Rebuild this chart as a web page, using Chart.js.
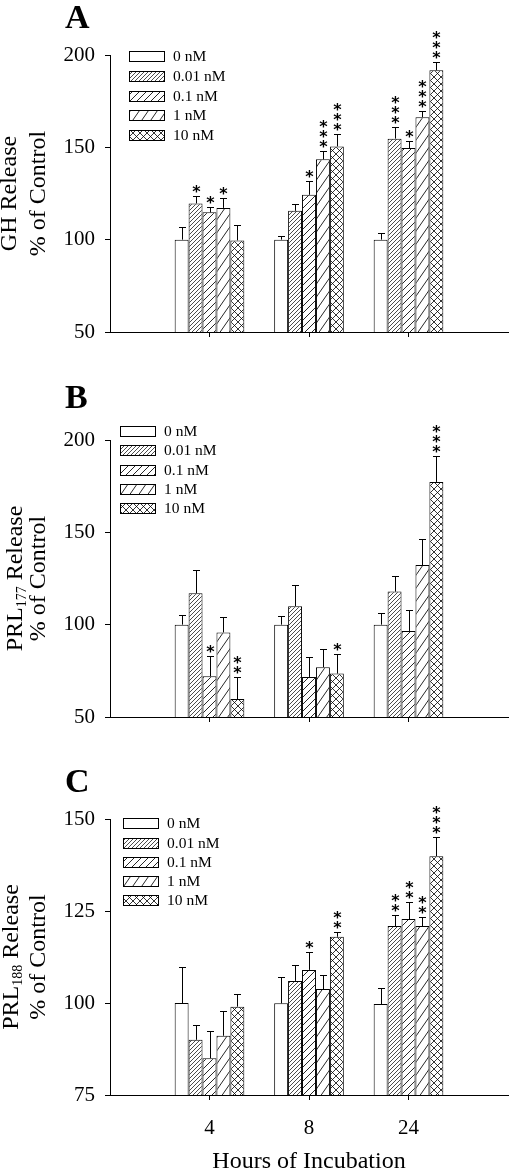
<!DOCTYPE html>
<html><head><meta charset="utf-8">
<script src="https://cdn.jsdelivr.net/npm/chart.js@4.4.0/dist/chart.umd.min.js"></script>
<style>
html,body{margin:0;padding:0;background:#fff;width:510px;height:1170px;overflow:hidden}
.p{position:absolute;left:0;width:510px}
canvas{display:block}
</style></head><body>
<div class="p" style="top:0;height:370px"><canvas id="cA" width="510" height="370"></canvas></div>
<div class="p" style="top:370px;height:370px"><canvas id="cB" width="510" height="370"></canvas></div>
<div class="p" style="top:740px;height:430px"><canvas id="cC" width="510" height="430"></canvas></div>
<script>
const hours = ['4', '8', '24'];
const doses = ['0 nM', '0.01 nM', '0.1 nM', '1 nM', '10 nM'];
const xTitle = 'Hours of Incubation';

// Panel A - GH release, % of control (rows: doses, columns: hours)
const ghMean = [
  [100, 100, 100],
  [119.6, 115.6, 154.7],
  [114.8, 124.3, 149.6],
  [117.2, 143.5, 166.3],
  [99.6, 150.5, 191.7]
];
const ghSem = [
  [7, 2, 3.6],
  [3.9, 3.6, 6.1],
  [3, 7.4, 3.8],
  [5.1, 4.7, 3.6],
  [8.2, 6.5, 4.3]
];
const ghStars = [[0,0,0],[1,0,3],[1,1,1],[1,3,3],[0,3,3]];

// Panel B - PRL177 release
const prl177Mean = [
  [100, 100, 100],
  [117, 110, 117.9],
  [72, 71.7, 96.6],
  [95.8, 77, 132.3],
  [59.7, 73.5, 177.3]
];
const prl177Sem = [
  [5, 4.5, 6.3],
  [12.8, 11.3, 8.6],
  [11.2, 10.6, 11.4],
  [8.4, 10, 13.9],
  [12, 10.5, 13.9]
];
const prl177Stars = [[0,0,0],[0,0,0],[1,0,0],[0,0,0],[2,1,3]];

// Panel C - PRL188 release
const prl188Mean = [
  [100, 99.9, 99.7],
  [90, 106, 120.9],
  [85, 109, 122.8],
  [91.1, 103.8, 120.9],
  [99, 118, 139.9]
];
const prl188Sem = [
  [9.9, 7.3, 4.3],
  [4, 4.2, 3],
  [7.4, 4.9, 4.6],
  [6.6, 3.7, 2.5],
  [3.4, 1.4, 5.1]
];
const prl188Stars = [[0,0,0],[0,0,2],[0,1,2],[0,0,2],[0,2,3]];

const yTicksAB = [50, 100, 150, 200];
const yTicksC = [75, 100, 125, 150];

const SERIF = '"Liberation Serif", "Times New Roman", serif';
const xLabels = [''].concat(hours, ['']);

function makeFill(kind) {
  if (kind === 'open') return '#ffffff';
  const specs = {
    dense: {w: 4, h: 4, slash: true, lw: 0.7},
    fine: {w: 7, h: 7, slash: true, lw: 0.85},
    steep: {w: 9, h: 13, slash: true, lw: 0.85},
    cross: {w: 7, h: 7, slash: true, back: true, lw: 0.8}
  };
  const s = specs[kind];
  const c = document.createElement('canvas');
  c.width = s.w; c.height = s.h;
  const g = c.getContext('2d');
  g.fillStyle = '#fff'; g.fillRect(0, 0, s.w, s.h);
  g.strokeStyle = '#000'; g.lineWidth = s.lw;
  const w = s.w, h = s.h;
  for (let k = -1; k <= 1; k++) {
    if (s.slash) { g.beginPath(); g.moveTo(k*w - w, 2*h); g.lineTo(k*w + 2*w, -h); g.stroke(); }
    if (s.back) { g.beginPath(); g.moveTo(k*w - w, -h); g.lineTo(k*w + 2*w, 2*h); g.stroke(); }
  }
  return g.createPattern(c, 'repeat');
}
const fills = ['open', 'dense', 'fine', 'steep', 'cross'].map(makeFill);

function decorPlugin(cfg) {
  return {
    id: 'decor' + cfg.letter,
    afterDatasetsDraw(chart) {
      const ctx = chart.ctx, ys = chart.scales.y;
      ctx.save();
      ctx.strokeStyle = '#000'; ctx.fillStyle = '#000'; ctx.lineWidth = 1;
      ctx.font = 'bold 16px "DejaVu Sans"';
      const m = ctx.measureText('*');
      const starOff = (m.actualBoundingBoxAscent - m.actualBoundingBoxDescent) / 2;
      ctx.textAlign = 'center'; ctx.textBaseline = 'alphabetic';
      chart.data.datasets.forEach((ds, di) => {
        const meta = chart.getDatasetMeta(di);
        meta.data.forEach((bar, i) => {
          const v = ds.data[i];
          if (v == null) return;
          const x = Math.round(bar.x) + 0.5;
          const yTop = Math.round(ys.getPixelForValue(v + ds.errs[i])) + 0.5;
          ctx.beginPath();
          ctx.moveTo(x, bar.y); ctx.lineTo(x, yTop);
          ctx.moveTo(x - 3.5, yTop); ctx.lineTo(x + 3.5, yTop);
          ctx.stroke();
          for (let k = 0; k < ds.stars[i]; k++) {
            const cy = yTop - 8 - k * 10;
            ctx.fillText('*', x, cy + starOff);
          }
        });
      });
      ctx.restore();
    },
    afterDraw(chart) {
      const ctx = chart.ctx, ca = chart.chartArea;
      ctx.save();
      ctx.fillStyle = '#000'; ctx.strokeStyle = '#000'; ctx.lineWidth = 1;
      // legend
      const L = cfg.legend;
      ctx.font = '15.5px ' + SERIF;
      ctx.textAlign = 'left'; ctx.textBaseline = 'middle';
      chart.data.datasets.forEach((ds, i) => {
        const yc = L.y + i * L.step;
        const by = Math.round(yc - 5) + 0.5, bx = L.x + 0.5;
        ctx.fillStyle = ds.backgroundColor;
        ctx.fillRect(bx, by, 35, 10);
        ctx.strokeRect(bx, by, 35, 10);
        ctx.fillStyle = '#000';
        ctx.fillText(ds.label, L.x + 44, yc + 1);
      });
      // panel letter
      ctx.font = 'bold 34px ' + SERIF;
      ctx.textAlign = 'left'; ctx.textBaseline = 'alphabetic';
      ctx.fillText(cfg.letter, 65, cfg.letterY);
      // y titles
      const yc = (ca.top + ca.bottom) / 2;
      cfg.titles.forEach(line => {
        ctx.save();
        ctx.translate(line.x, yc);
        ctx.rotate(-Math.PI / 2);
        let total = 0;
        const segs = line.segs.map(s => {
          const f = (s.sub ? '14px ' : '24px ') + SERIF;
          ctx.font = f;
          const w = ctx.measureText(s.t).width;
          total += w;
          return {f, w, t: s.t, sub: s.sub};
        });
        let x = -total / 2;
        ctx.textAlign = 'left'; ctx.textBaseline = 'alphabetic';
        segs.forEach(s => { ctx.font = s.f; ctx.fillText(s.t, x, s.sub ? 4 : 0); x += s.w; });
        ctx.restore();
      });
      if (cfg.showX) {
        ctx.font = '24px ' + SERIF;
        ctx.textAlign = 'center'; ctx.textBaseline = 'alphabetic';
        ctx.fillText(xTitle, (ca.left + ca.right) / 2, cfg.xTitleY);
      }
      ctx.restore();
    }
  };
}

function buildChart(id, cfg) {
  const datasets = doses.map((d, i) => ({
    label: d,
    data: [null].concat(cfg.mean[i], [null]),
    errs: [null].concat(cfg.sem[i], [null]),
    stars: [0].concat(cfg.stars[i], [0]),
    backgroundColor: fills[i],
    borderColor: '#000',
    borderWidth: 1,
    categoryPercentage: 0.7,
    barPercentage: 1.0
  }));
  new Chart(document.getElementById(id), {
    type: 'bar',
    data: {labels: xLabels, datasets},
    options: {
      responsive: false, animation: false, devicePixelRatio: 1,
      layout: {padding: {top: cfg.top, left: 0, right: 2, bottom: 0}},
      plugins: {legend: {display: false}, tooltip: {enabled: false}},
      scales: {
        x: {
          type: 'category', offset: false,
          grid: {display: true, offset: false, drawOnChartArea: false, drawTicks: true, tickLength: 5,
                 color: c => (c.index === 0 || c.index === 4) ? 'rgba(0,0,0,0)' : '#000'},
          border: {display: true, color: '#000', width: 1},
          ticks: {display: cfg.showX, font: {family: SERIF, size: 21}, color: '#000', padding: 16, autoSkip: false, maxRotation: 0},
          afterFit: s => { s.height = cfg.h - cfg.bottom; s.paddingLeft = 0; s.paddingRight = 0; }
        },
        y: {
          min: cfg.yTicks[0], max: cfg.yTicks[cfg.yTicks.length - 1],
          grid: {display: true, drawOnChartArea: false, drawTicks: true, tickLength: 5, color: '#000'},
          border: {display: true, color: '#000', width: 1},
          ticks: {font: {family: SERIF, size: 21}, color: '#000', padding: 10},
          afterBuildTicks: s => { s.ticks = cfg.yTicks.map(v => ({value: v})); },
          afterFit: s => { s.width = 110; }
        }
      }
    },
    plugins: [decorPlugin(cfg)]
  });
}

buildChart('cA', {
  letter: 'A', letterY: 28, h: 370, top: 55, bottom: 332,
  mean: ghMean, sem: ghSem, stars: ghStars, yTicks: yTicksAB, showX: false,
  legend: {x: 129, y: 56.3, step: 19.7},
  titles: [{x: 16, segs: [{t: 'GH Release'}]}, {x: 45, segs: [{t: '% of Control'}]}]
});
buildChart('cB', {
  letter: 'B', letterY: 38, h: 370, top: 70, bottom: 347,
  mean: prl177Mean, sem: prl177Sem, stars: prl177Stars, yTicks: yTicksAB, showX: false,
  legend: {x: 120, y: 61, step: 19.3},
  titles: [{x: 22, segs: [{t: 'PRL'}, {t: '177', sub: true}, {t: ' Release'}]}, {x: 45, segs: [{t: '% of Control'}]}]
});
buildChart('cC', {
  letter: 'C', letterY: 52, h: 430, top: 79, bottom: 355,
  mean: prl188Mean, sem: prl188Sem, stars: prl188Stars, yTicks: yTicksC, showX: true, xTitleY: 428,
  legend: {x: 123, y: 83.3, step: 19.2},
  titles: [{x: 18, segs: [{t: 'PRL'}, {t: '188', sub: true}, {t: ' Release'}]}, {x: 45, segs: [{t: '% of Control'}]}]
});
</script>
</body></html>
